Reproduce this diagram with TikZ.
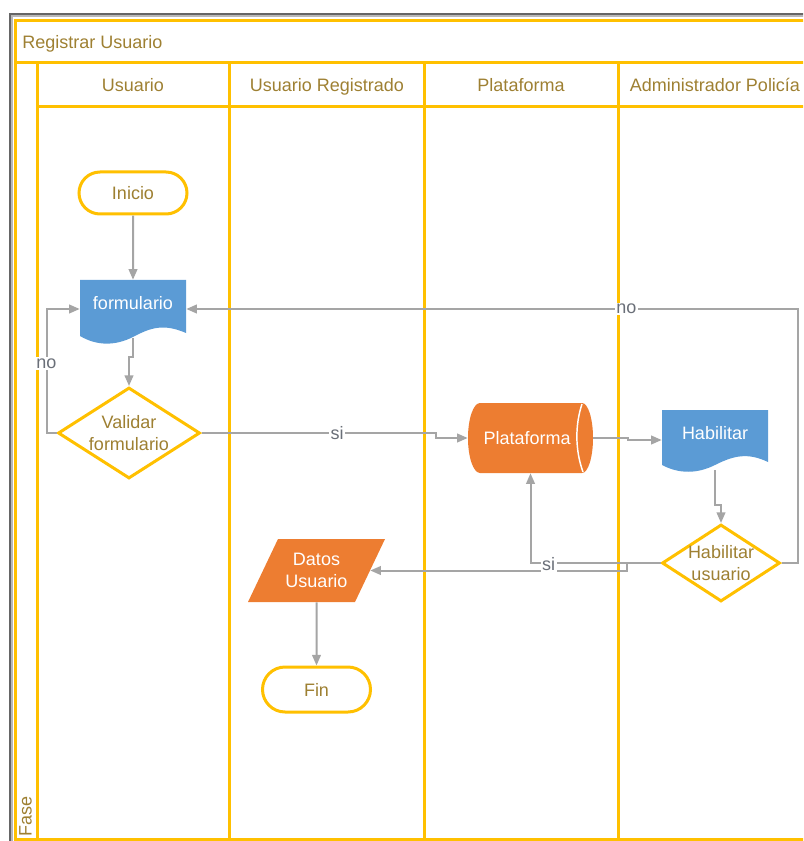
\documentclass[tikz,border=0pt]{standalone}
\usepackage{fontspec}
\setmainfont{Liberation Sans}
\usetikzlibrary{arrows.meta,shapes.geometric,shapes.misc}

\definecolor{lane}{HTML}{FFC000}
\definecolor{gold}{HTML}{9E8032}
\definecolor{docblue}{HTML}{5B9BD5}
\definecolor{orng}{HTML}{ED7D31}
\definecolor{conngray}{HTML}{A5A5A5}
\definecolor{lbltxt}{HTML}{6A6F78}

\begin{document}
\begin{tikzpicture}[x=0.75pt,y=-0.75pt,
  every node/.style={font=\fontsize{13.5pt}{16.5pt}\selectfont},
  lanerule/.style={draw=lane, line width=2.25pt},
  lanetxt/.style={text=gold, inner sep=0pt, text height=9.7pt, text depth=2.8pt},
  terminal/.style={rounded rectangle, draw=lane, line width=2.25pt, fill=white,
    text=gold, minimum width=81pt, minimum height=31.5pt, inner sep=0pt},
  decision/.style={diamond, draw=lane, line width=2.25pt, fill=white, inner sep=0pt},
  anchorbox/.style={rectangle, draw=none, inner sep=0pt},
  shapetxt/.style={text=white, align=center, inner sep=0pt},
  decisiontxt/.style={text=gold, align=center, inner sep=0pt},
  flow/.style={draw=conngray, line width=1.5pt, -{Triangle[length=8pt,width=6.5pt]}},
  edgelbl/.style={fill=white, text=lbltxt, inner sep=1pt}]

\useasboundingbox (0,0) rectangle (803,841);
\clip (0,0) rectangle (803,841);

% window frame shadow
\draw[line width=1.5pt, draw=black!60] (10,850) -- (10,14) -- (810,14);
\draw[line width=1.5pt, draw=black!28] (12,850) -- (12,16) -- (810,16);

% pool and swimlanes
\draw[lanerule] (15,850) -- (15,21) -- (810,21);
\draw[lanerule] (15,63) -- (810,63);
\draw[lanerule] (15,839.5) -- (810,839.5);
\draw[lanerule] (37,63) -- (37,850);
\draw[lanerule] (37,107) -- (810,107);
\foreach \x in {229.5,424.5,618} \draw[lanerule] (\x,63) -- (\x,850);

\node[lanetxt, anchor=west] (pool) at (22,43.5) {Registrar Usuario};
\node[lanetxt] (lane1) at (133,86.5) {Usuario};
\node[lanetxt] (lane2) at (327,86.5) {Usuario Registrado};
\node[lanetxt] (lane3) at (521,86.5) {Plataforma};
\node[lanetxt] (lane4) at (715,86.5) {Administrador Policía};
\node[lanetxt, rotate=90] (fase) at (27,816) {Fase};

% start / end
\node[terminal] (inicio) at (133,193) {Inicio};
\node[terminal, minimum height=33.75pt] (fin) at (316.5,689.5) {Fin};

% document: formulario
\fill[docblue] (80,280) -- (186,280) -- (186,333)
  .. controls (163,323) and (150,328) .. (133,337)
  .. controls (115,346) and (97,346) .. (80,336) -- cycle;
\node[anchorbox, minimum width=79.5pt, minimum height=43.5pt,
  label={[shapetxt,yshift=4.5pt]center:formulario}] (form) at (133,309) {};

% decision: validar formulario
\node[decision, minimum width=106.5pt, minimum height=68.25pt,
  label={[decisiontxt]center:{Validar\\formulario}}] (val) at (129,433) {};

% storage: plataforma
\fill[orng] (480,403) -- (582,403)
  arc[start angle=-90, end angle=90, x radius=11, y radius=35]
  -- (480,473)
  arc[start angle=90, end angle=270, x radius=12, y radius=35] -- cycle;
\draw[white, line width=1.1pt] (582,404) .. controls (575,425) and (575,450) .. (583,472);
\node[anchorbox, minimum width=93.75pt, minimum height=52.5pt,
  label={[shapetxt,xshift=-2.6pt]center:Plataforma}] (plat) at (530.5,438) {};

% document: habilitar
\fill[docblue] (662,410) -- (768,410) -- (768,462)
  .. controls (747,452) and (733,456) .. (715,465)
  .. controls (697,474) and (679,474) .. (662,465) -- cycle;
\node[anchorbox, minimum width=79.5pt, minimum height=45pt,
  label={[shapetxt,yshift=5.25pt]center:Habilitar}] (hab) at (715,440) {};

% decision: habilitar usuario
\node[decision, minimum width=88.5pt, minimum height=57.75pt,
  label={[decisiontxt]center:{Habilitar\\usuario}}] (habu) at (721,563) {};

% data: datos usuario
\fill[orng] (278,539) -- (385,539) -- (355,602) -- (248,602) -- cycle;
\node[anchorbox, minimum width=80.25pt, minimum height=47.25pt,
  label={[shapetxt]center:{Datos\\Usuario}}] (datos) at (316.5,570.5) {};

% connectors
\draw[flow] (inicio) -- (form);
\draw[flow] (form.south) -- ++(0,19) -| (val.north);
\draw[flow] (val.west) -- ++(-10,0) |- (form.west) node[edgelbl,pos=0.28]{no};
\draw[flow] (val.east) -- node[edgelbl,pos=0.58]{si} ++(234,0) |- (plat.west);
\draw[flow] (plat.east) -- ++(35,0) |- (hab.west);
\draw[flow] (hab.south) -- ++(0,35) -| (habu.north);
\draw[flow] (habu.east) -- ++(16,0) |- (form.east) node[edgelbl,pos=0.64]{no};
\draw[flow] (habu.west) -- ++(-34,0) |- (datos.east);
\draw[flow] (habu.west) -| (plat.south) node[edgelbl,pos=0.43,yshift=-1pt]{si};
\draw[flow] (datos) -- (fin);

\end{tikzpicture}
\end{document}
